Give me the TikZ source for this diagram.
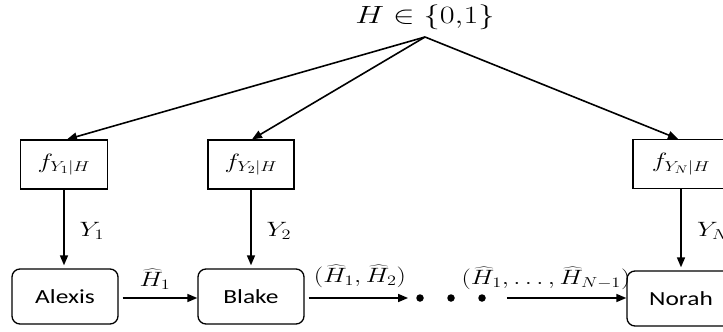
\documentclass[tikz,border=0pt]{standalone}
\usepackage{fontspec}
\setmainfont{Carlito}
\usepackage{graphicx}
\usetikzlibrary{arrows.meta}
\newcommand\hs[1]{\scalebox{1.27}[1]{#1}}
\newcommand\mt[1]{\hs{\fontsize{22}{26}\selectfont$#1$}}
\newcommand\tx[1]{\hs{\fontsize{20}{24}\selectfont #1}}
\tikzset{
  line/.style={line width=1.6pt, -{Triangle[length=10pt,width=8pt]}},
  fbox/.style={draw, line width=1.3pt, minimum height=49pt, inner sep=0pt},
  agent/.style={draw, line width=1.3pt, rounded corners=8pt, minimum width=106pt, minimum height=55pt, inner sep=0pt},
  lbl/.style={inner sep=0pt},
  dotn/.style={circle, fill, minimum size=7.5pt, inner sep=0pt},
}
\begin{document}
\begin{tikzpicture}[x=1pt,y=-1pt]
\useasboundingbox (0,0) rectangle (723,332);
\clip (0,0) rectangle (723,332);
\node[lbl] (H) at (425,17.5) {\scalebox{1.3}[1]{\fontsize{24}{28}\selectfont$H \in \{0{,}1\}$}};
\coordinate (apex) at (425,37);
\node[fbox, minimum width=87pt] (f1) at (64,164.5) {\mt{f_{Y_1|H}}};
\node[fbox, minimum width=86pt] (f2) at (251,164.5) {\mt{f_{Y_2|H}}};
\node[fbox, minimum width=96pt] (fN) at (681,164) {\mt{f_{Y_N|H}}};
\node[agent] (A) at (65,296.5) {\tx{Alexis}};
\node[agent] (B) at (251,296.5) {\tx{Blake}};
\node[agent, minimum width=108pt] (N) at (681,298.5) {\tx{Norah}};
\node[dotn] (d1) at (420,298) {};
\node[dotn] (d2) at (451,298) {};
\node[dotn] (d3) at (482,298) {};
\draw[line] (apex) -- ([xshift=3pt]f1.north);
\draw[line] (apex) -- ([xshift=1pt]f2.north);
\draw[line] (apex) -- ([xshift=-3pt]fN.north);
\draw[line, shorten >=3pt] (f1.south) -- (f1.south |- A.north);
\draw[line, shorten >=3pt] (f2.south) -- (f2.south |- B.north);
\draw[line, shorten >=3pt] (fN.south) -- (fN.south |- N.north);
\draw[line, shorten <=4pt] (A.east |- 0,298) -- (B.west |- 0,298);
\draw[line, shorten <=4pt, shorten >=8pt] (B.east |- 0,298) -- (d1);
\draw[line, shorten <=21pt] (d3) -- (N.west |- 0,298);
\node[lbl] (y1) at (92,231) {\mt{Y_1}};
\node[lbl] (y2) at (279,231) {\mt{Y_2}};
\node[lbl, anchor=west] (yN) at (697,231) {\mt{Y_N}};
\node[lbl] (h1) at (155,279) {\mt{\widehat{H}_1}};
\node[lbl] (h12) at (360,276) {\mt{(\widehat{H}_1,\widehat{H}_2)}};
\node[lbl] (h1N) at (546,278) {\mt{(\widehat{H}_1,\ldots,\widehat{H}_{N-1})}};
\end{tikzpicture}
\end{document}
